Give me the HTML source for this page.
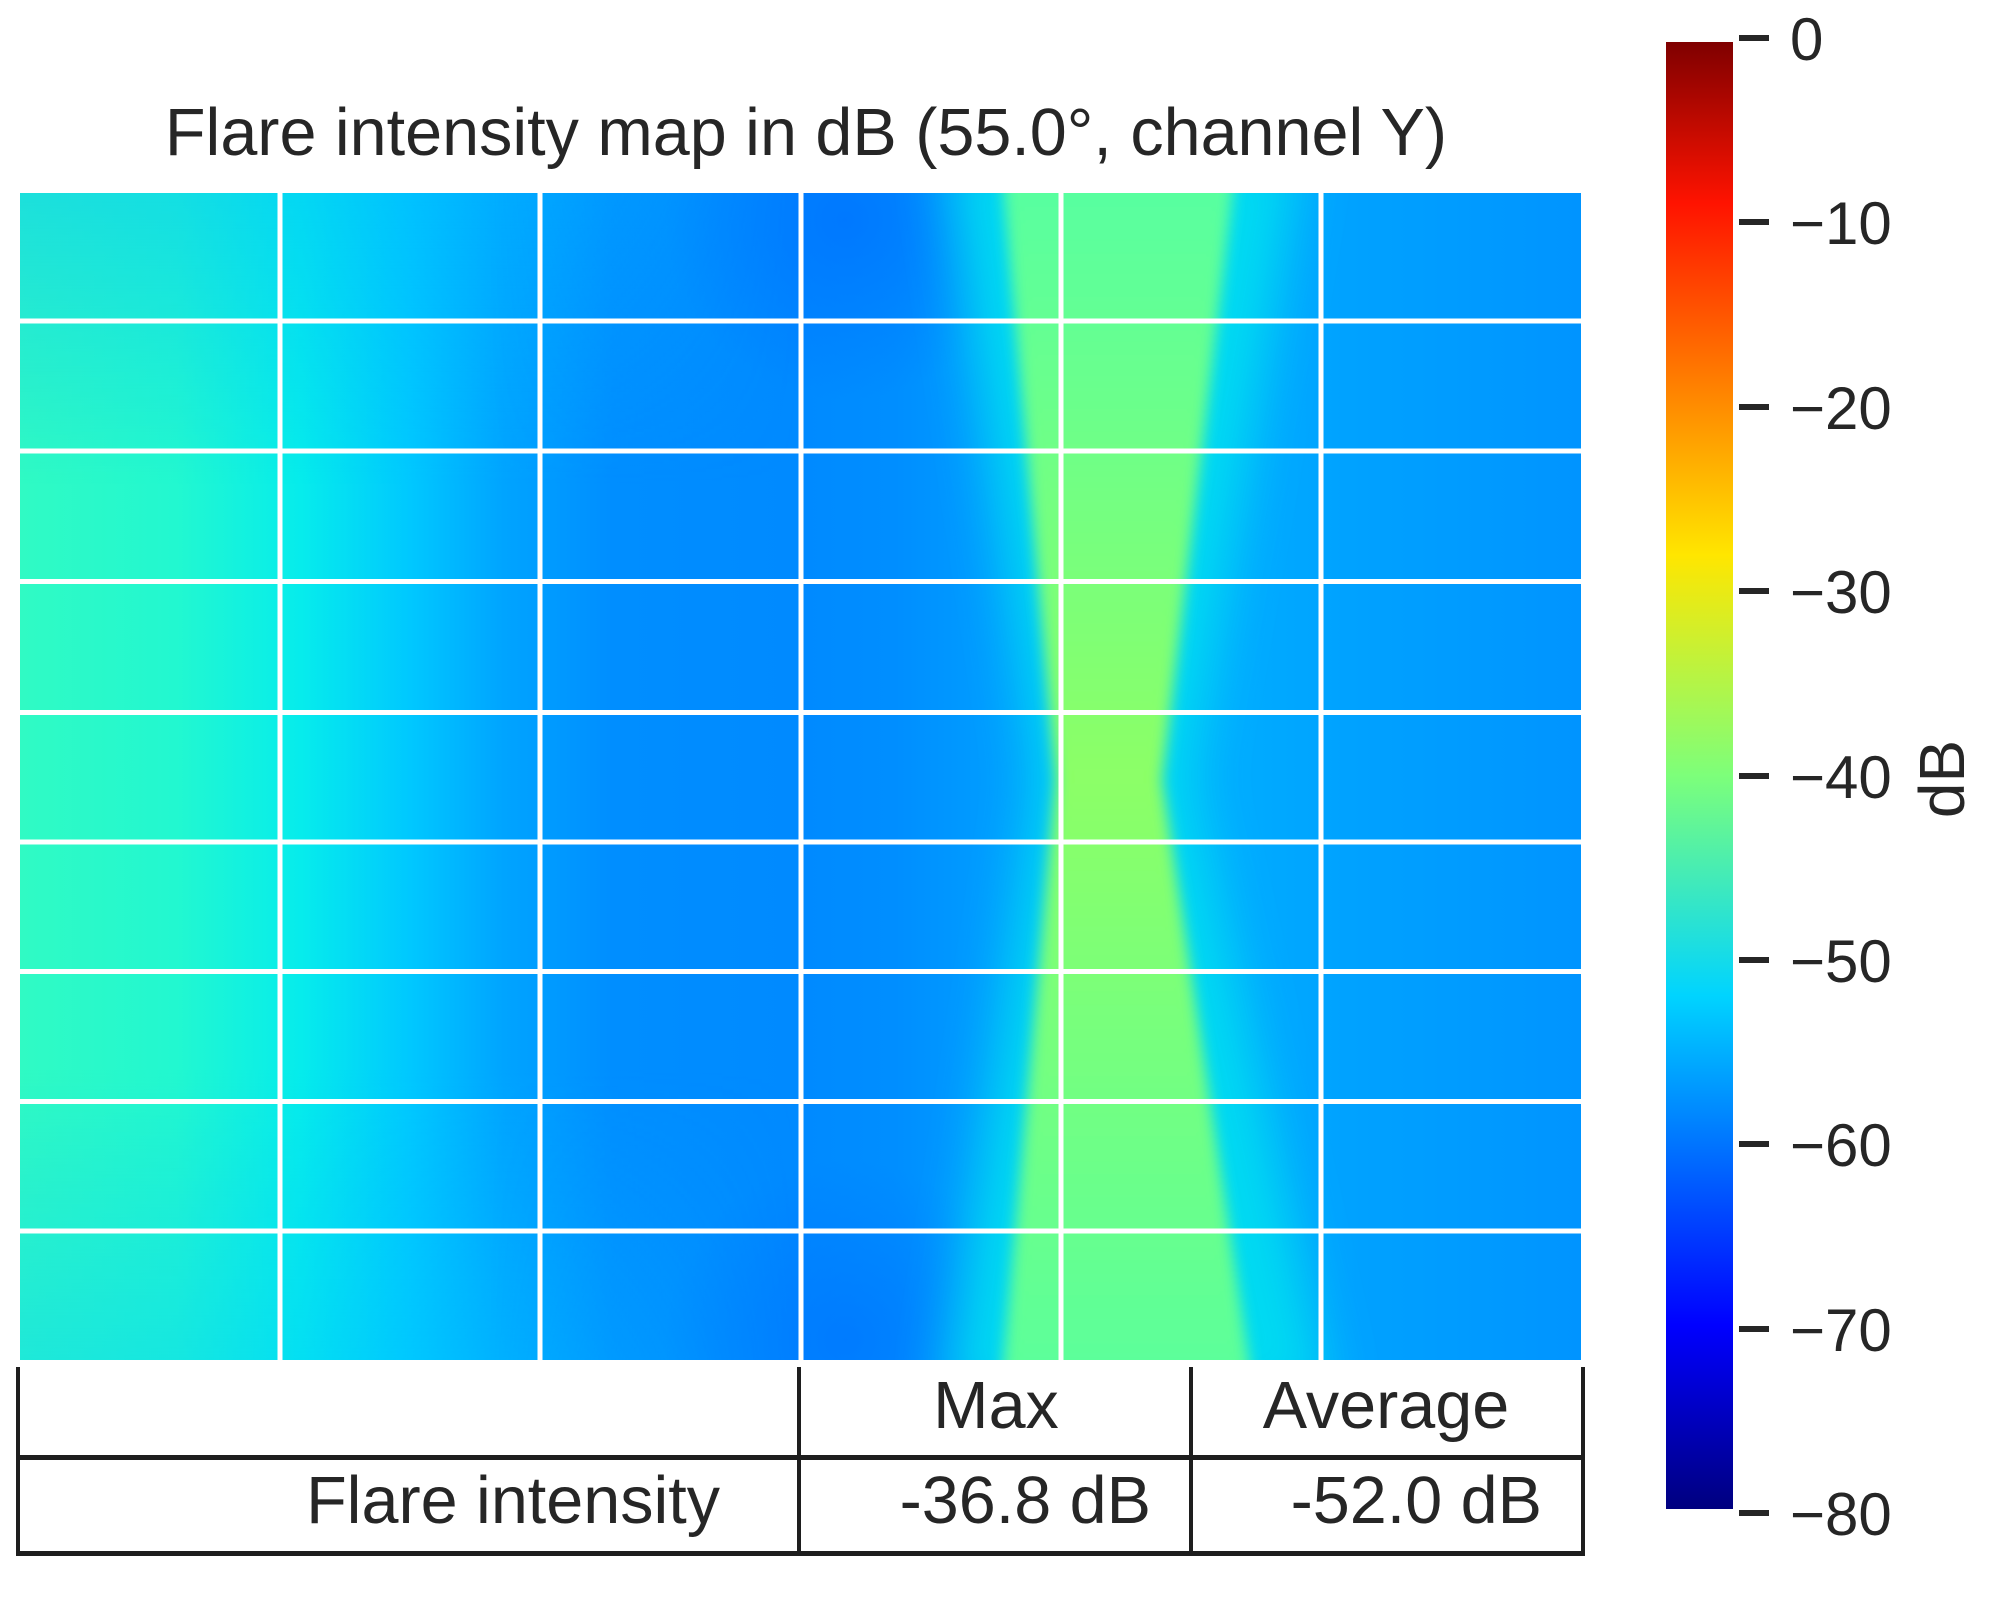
<!DOCTYPE html>
<html><head><meta charset="utf-8"><style>
html,body{margin:0;padding:0;background:#fff;}
svg{display:block;}
text{font-family:"Liberation Sans",Arial,sans-serif;fill:#262626;}
</style></head><body>
<svg width="2000" height="1600" viewBox="0 0 2000 1600" xmlns="http://www.w3.org/2000/svg">
<defs>
<linearGradient id="base" x1="20" y1="0" x2="1581" y2="0" gradientUnits="userSpaceOnUse">
<stop offset="0" stop-color="#30fac4"/>
<stop offset="0.1" stop-color="#22f8d0"/>
<stop offset="0.18" stop-color="#06ecec"/>
<stop offset="0.25" stop-color="#00c8ff"/>
<stop offset="0.31" stop-color="#00a4ff"/>
<stop offset="0.38" stop-color="#008eff"/>
<stop offset="0.5" stop-color="#008aff"/>
<stop offset="0.56" stop-color="#008eff"/>
<stop offset="0.62" stop-color="#009cff"/>
<stop offset="0.72" stop-color="#00b4ff"/>
<stop offset="0.85" stop-color="#00a2ff"/>
<stop offset="1" stop-color="#0094ff"/>
</linearGradient>
<linearGradient id="vov" x1="0" y1="193" x2="0" y2="1360" gradientUnits="userSpaceOnUse">
<stop offset="0" stop-color="#00b8ff" stop-opacity="0.4"/>
<stop offset="0.25" stop-color="#00b8ff" stop-opacity="0"/>
<stop offset="0.75" stop-color="#00c0ff" stop-opacity="0"/>
<stop offset="1" stop-color="#00c8ff" stop-opacity="0.35"/>
</linearGradient>
<linearGradient id="hmask" x1="20" y1="0" x2="800" y2="0" gradientUnits="userSpaceOnUse">
<stop offset="0" stop-color="#fff"/>
<stop offset="0.6" stop-color="#fff"/>
<stop offset="1" stop-color="#000"/>
</linearGradient>
<mask id="lm"><rect x="20" y="193" width="800" height="1167" fill="url(#hmask)"/></mask>
<linearGradient id="green" x1="0" y1="193" x2="0" y2="1360" gradientUnits="userSpaceOnUse">
<stop offset="0" stop-color="#58ffa0"/>
<stop offset="0.5" stop-color="#8cff66"/>
<stop offset="1" stop-color="#5cff9a"/>
</linearGradient>
<radialGradient id="dark" cx="845" cy="220" r="180" gradientUnits="userSpaceOnUse">
<stop offset="0" stop-color="#0070ff" stop-opacity="0.7"/>
<stop offset="1" stop-color="#0070ff" stop-opacity="0"/>
</radialGradient>
<radialGradient id="dark2" cx="845" cy="1340" r="180" gradientUnits="userSpaceOnUse">
<stop offset="0" stop-color="#0070ff" stop-opacity="0.6"/>
<stop offset="1" stop-color="#0070ff" stop-opacity="0"/>
</radialGradient>
<filter id="b1" x="-50%" y="-10%" width="200%" height="120%"><feGaussianBlur stdDeviation="26"/></filter>
<filter id="b2" x="-50%" y="-10%" width="200%" height="120%"><feGaussianBlur stdDeviation="7"/></filter>
<clipPath id="hc"><rect x="20" y="193" width="1561" height="1167"/></clipPath>
<linearGradient id="jet" x1="0" y1="42" x2="0" y2="1509" gradientUnits="userSpaceOnUse">
<stop offset="0" stop-color="#7f0000"/>
<stop offset="0.11" stop-color="#ff1300"/>
<stop offset="0.35" stop-color="#ffe600"/>
<stop offset="0.5" stop-color="#7dff7a"/>
<stop offset="0.65" stop-color="#00d4ff"/>
<stop offset="0.875" stop-color="#0000ff"/>
<stop offset="1" stop-color="#00007f"/>
</linearGradient>
</defs>

<text x="806" y="155" font-size="66.5" text-anchor="middle">Flare intensity map in dB (55.0°, channel Y)</text>

<g clip-path="url(#hc)">
<rect x="20" y="193" width="1561" height="1167" fill="url(#base)"/>
<rect x="20" y="193" width="800" height="1167" fill="url(#vov)" mask="url(#lm)"/>
<rect x="600" y="193" width="500" height="1167" fill="url(#dark)"/>
<rect x="600" y="193" width="500" height="1167" fill="url(#dark2)"/>
<polygon points="945,150 1300,150 1190,780 1330,1400 945,1400 1040,780" fill="#00e0f0" filter="url(#b1)" opacity="0.9"/>
<polygon points="1000,150 1238,150 1162,780 1255,1400 1000,1400 1056,780" fill="url(#green)" filter="url(#b2)"/>
</g>

<g fill="#fff">
<rect x="277.5" y="193" width="5" height="1167"/>
<rect x="537.5" y="193" width="5" height="1167"/>
<rect x="798.5" y="193" width="5" height="1167"/>
<rect x="1058.5" y="193" width="5" height="1167"/>
<rect x="1318.5" y="193" width="5" height="1167"/>
<rect x="20" y="318.5" width="1561" height="5"/>
<rect x="20" y="448.5" width="1561" height="5"/>
<rect x="20" y="579" width="1561" height="5"/>
<rect x="20" y="710" width="1561" height="5"/>
<rect x="20" y="839.5" width="1561" height="5"/>
<rect x="20" y="969" width="1561" height="5"/>
<rect x="20" y="1099" width="1561" height="5"/>
<rect x="20" y="1228.5" width="1561" height="5"/>
</g>

<!-- table -->
<g fill="#1e1e1e">
<rect x="16" y="1367" width="4" height="189"/>
<rect x="797" y="1367" width="4" height="189"/>
<rect x="1189" y="1367" width="4" height="189"/>
<rect x="1581" y="1367" width="4" height="189"/>
<rect x="16" y="1455" width="1569" height="5"/>
<rect x="16" y="1551" width="1569" height="5"/>
</g>
<text x="996" y="1428" font-size="66.5" text-anchor="middle">Max</text>
<text x="1386" y="1428" font-size="66.5" text-anchor="middle">Average</text>
<text x="720" y="1523" font-size="66.5" text-anchor="end">Flare intensity</text>
<text x="1151" y="1523" font-size="66.5" text-anchor="end">-36.8 dB</text>
<text x="1542" y="1523" font-size="66.5" text-anchor="end">-52.0 dB</text>

<!-- colorbar -->
<rect x="1666" y="42" width="67" height="1467" fill="url(#jet)"/>
<g fill="#262626">
<rect x="1739" y="35" width="30" height="6"/>
<rect x="1739" y="219" width="30" height="6"/>
<rect x="1739" y="404" width="30" height="6"/>
<rect x="1739" y="588" width="30" height="6"/>
<rect x="1739" y="773" width="30" height="6"/>
<rect x="1739" y="957" width="30" height="6"/>
<rect x="1739" y="1141" width="30" height="6"/>
<rect x="1739" y="1326" width="30" height="6"/>
<rect x="1739" y="1510" width="30" height="6"/>
</g>
<g font-size="60">
<text x="1790" y="60">0</text>
<text x="1790" y="244">−10</text>
<text x="1790" y="429">−20</text>
<text x="1790" y="613">−30</text>
<text x="1790" y="798">−40</text>
<text x="1790" y="982">−50</text>
<text x="1790" y="1166">−60</text>
<text x="1790" y="1351">−70</text>
<text x="1790" y="1535">−80</text>
</g>
<text x="0" y="0" font-size="64" text-anchor="middle" transform="translate(1964,779) rotate(-90)">dB</text>
</svg>
</body></html>
